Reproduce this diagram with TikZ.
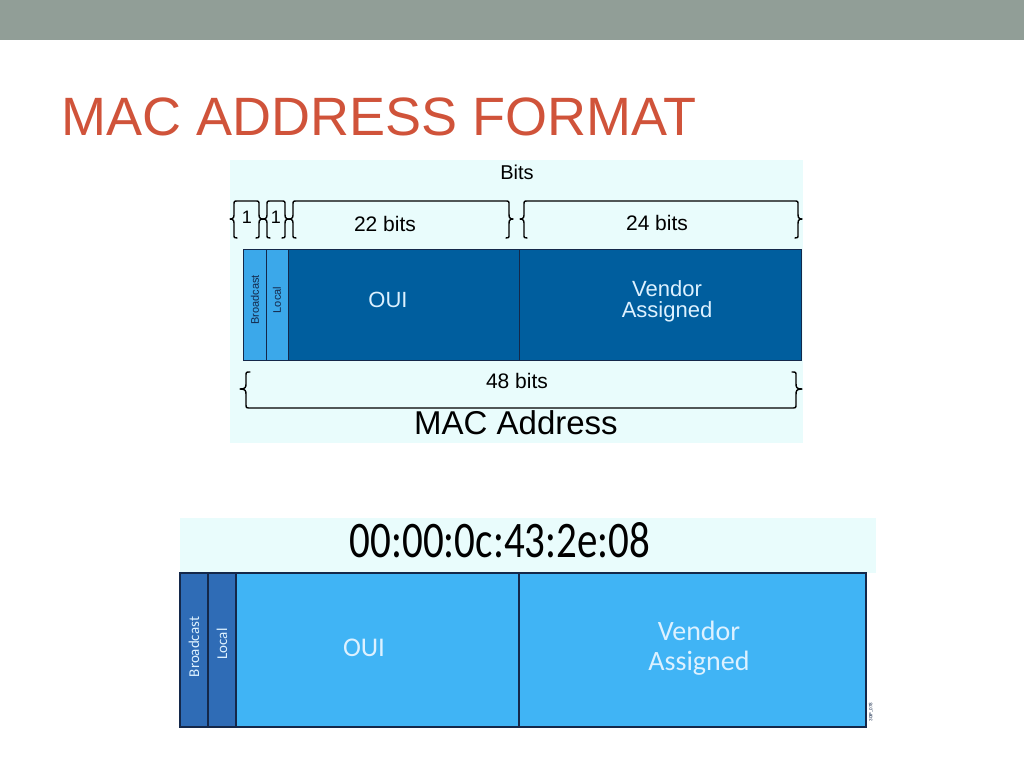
\documentclass[tikz,border=0pt]{standalone}
\usepackage{fontspec}
\setmainfont{Liberation Sans}
\newfontfamily\carlito{Carlito}
\definecolor{BandClr}{HTML}{919E97}
\definecolor{TitleClr}{HTML}{D0533A}
\definecolor{PanelClr}{HTML}{E9FCFC}
\definecolor{DeepClr}{HTML}{005E9E}
\definecolor{SkyClr}{HTML}{3BA8EA}
\definecolor{FieldClr}{HTML}{40B4F5}
\definecolor{FlagClr}{HTML}{2F6CB6}
\definecolor{PaleClr}{HTML}{DDF1FF}
\definecolor{EdgeClr}{HTML}{14284A}

\tikzset{
  brace/.style={line width=1.4pt, line cap=round, line join=round},
  field/.style={draw=EdgeClr, line width=0.8pt},
  arial/.style={inner sep=0pt, font=\fontsize{#1}{#1}\selectfont},
  calib/.style={inner sep=0pt, font=\carlito\fontsize{#1}{1.05\dimexpr#1pt\relax}\selectfont},
}

% brace with its bar on top, between x=#1 and x=#2
\newcommand\capbrace[2]{%
  \draw[brace] (#1,219) .. controls (#1+4,219) and (#1+4,217) .. (#1+4,213) -- (#1+4,205)
      .. controls (#1+4,201) .. (#1+8,201) -- (#2-8,201) .. controls (#2-4,201) .. (#2-4,205)
      -- (#2-4,213) .. controls (#2-4,217) and (#2-4,219) .. (#2,219)
    (#1,219) .. controls (#1+4,219) and (#1+4,221) .. (#1+4,225) -- (#1+4,234)
      .. controls (#1+4,238) .. (#1+7,238)
    (#2,219) .. controls (#2-4,219) and (#2-4,221) .. (#2-4,225) -- (#2-4,234)
      .. controls (#2-4,238) .. (#2-7,238);}

\begin{document}
\begin{tikzpicture}[x=1pt,y=-1pt]
\useasboundingbox (0,0) rectangle (1024,768);
\fill[white] (0,0) rectangle (1024,768);
\fill[BandClr] (0,0) rectangle (1024,40);

\node[arial=54, text=TitleClr, anchor=base west] (title) at (61,135) {MAC ADDRESS FORMAT};

% upper figure
\fill[PanelClr] (230,160) rectangle (803,443);
\node[arial=20] (bits) at (517,172) {Bits};

\capbrace{230}{263}
\capbrace{263}{289}
\capbrace{289}{513}
\capbrace{520}{802}
\node[arial=18] (one1) at (247,217) {1};
\node[arial=18] (one2) at (276,217) {1};
\node[arial=21] (b22) at (385,224) {22 bits};
\node[arial=21] (b24) at (657,223) {24 bits};

\fill[DeepClr] (288,249) rectangle (801,360);
\fill[SkyClr] (243,249) rectangle (288,360);
\draw[field] (243,249) rectangle (801,360);
\draw[field] (266,249) -- (266,360) (288,249) -- (288,360) (519,249) -- (519,360);
\node[arial=11, text=EdgeClr, rotate=90] (bc1) at (255,300) {Broadcast};
\node[arial=11, text=EdgeClr, rotate=90] (lc1) at (277,300) {Local};
\node[arial=22, text=PaleClr] (oui1) at (388,300) {OUI};
\node[arial=22, text=PaleClr, align=center] (va1) at (667,301) {Vendor\\[-1pt]Assigned};

\draw[brace] (240,389) .. controls (246,389) and (246,387) .. (246,383) -- (246,376)
    .. controls (246,372) .. (250,372)
  (240,389) .. controls (246,389) and (246,391) .. (246,395) -- (246,404)
    .. controls (246,408) .. (251,408) -- (791,408) .. controls (796,408) .. (796,404)
    -- (796,395) .. controls (796,391) and (796,389) .. (802,389)
  (802,389) .. controls (796,389) and (796,387) .. (796,383) -- (796,376)
    .. controls (796,372) .. (792,372);
\node[arial=21] (b48) at (517,381) {48 bits};
\node[arial=33] (mac) at (516,423) {MAC Address};

% lower figure
\fill[PanelClr] (180,518) rectangle (876,728);
\node[calib=41] (addr) at (500,540) {\scalebox{1}[1.25]{00:00:0c:43:2e:08}};

\fill[white] (866,573) rectangle (876,728);
\fill[FieldClr] (236,573) rectangle (866,727);
\fill[FlagClr] (180,573) rectangle (236,727);
\draw[field, line width=1.2pt] (180,573) rectangle (866,727);
\draw[field, line width=1.2pt] (208,573) -- (208,727) (236,573) -- (236,727) (519,573) -- (519,727);
\node[calib=15, text=PaleClr, rotate=90] (bc2) at (194,647) {Broadcast};
\node[calib=15, text=PaleClr, rotate=90] (lc2) at (222,644) {Local};
\node[calib=27, text=PaleClr] (oui2) at (364,648) {OUI};
\node[calib=28, text=PaleClr, align=center] (va2) at (699,648) {Vendor\\Assigned};
\node[calib=5, text=EdgeClr, rotate=90] (tag) at (871,712) {30IP\_078};
\end{tikzpicture}
\end{document}
